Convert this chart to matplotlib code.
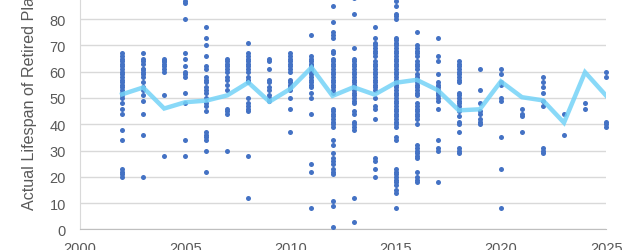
import matplotlib.pyplot as plt

# Retirement year of each plant and its actual lifespan (years)
years = list(range(2002, 2026))
lifespans = [
    [67, 66, 65, 64, 63, 62, 61, 60, 59, 58, 57, 56, 55, 54, 53, 52, 51, 50, 48, 46, 44, 38, 34, 23, 22, 21, 20],  # 2002
    [67, 65, 64, 63, 61, 61, 60, 59, 58, 56, 54, 53, 51, 49, 44, 36, 20],  # 2003
    [65, 64, 64, 63, 62, 61, 60, 51, 28],  # 2004
    [88, 87, 86, 80, 67, 65, 62, 60, 59, 58, 52, 48, 34, 28],  # 2005
    [77, 73, 70, 66, 62, 61, 58, 57, 56, 54, 53, 52, 50, 48, 47, 45, 37, 36, 35, 34, 30, 22],  # 2006
    [65, 64, 63, 62, 61, 60, 58, 57, 55, 53, 46, 45, 44, 30],  # 2007
    [71, 67, 66, 65, 64, 63, 62, 61, 60, 58, 57, 56, 50, 48, 47, 46, 45, 28, 12],  # 2008
    [65, 64, 61, 57, 56, 54, 53, 51, 50, 49],  # 2009
    [67, 66, 65, 64, 63, 62, 61, 60, 57, 56, 55, 54, 53, 50, 46, 37],  # 2010
    [74, 66, 65, 64, 63, 62, 61, 60, 59, 58, 57, 56, 55, 54, 52, 50, 44, 25, 22, 8],  # 2011
    [85, 79, 75, 74, 73, 68, 67, 65, 64, 63, 62, 61, 60, 59, 58, 57, 56, 55, 54, 53, 52,
     46, 45, 44, 43, 42, 41, 40, 39, 34, 32, 29, 27, 26, 25, 23, 22, 21, 11, 9, 1],  # 2012
    [88, 82, 69, 65, 64, 63, 62, 61, 60, 59, 58, 57, 56, 55, 54, 53, 52, 51, 50, 49, 48,
     45, 44, 41, 40, 39, 38, 12, 3],  # 2013
    [77, 73, 71, 70, 69, 68, 67, 66, 64, 63, 62, 61, 60, 59, 58, 57, 56, 55, 54, 53, 50,
     47, 46, 42, 27, 26, 23, 20],  # 2014
    [88, 87, 85, 82, 81, 80, 73, 72, 71, 70, 69, 68, 67, 66, 65, 64, 63, 62, 61, 60, 59,
     58, 57, 56, 55, 54, 53, 52, 51, 50, 49, 48, 47, 46, 45, 44, 43, 42, 41, 40, 39,
     35, 34, 23, 22, 21, 20, 19, 18, 17, 15, 14, 8],  # 2015
    [75, 70, 69, 68, 67, 66, 64, 63, 62, 61, 59, 58, 57, 56, 55, 54, 53, 52, 51, 48, 47,
     46, 45, 44, 43, 42, 40, 32, 31, 30, 29, 28, 27, 22, 20, 19, 18],  # 2016
    [73, 66, 64, 59, 56, 55, 54, 53, 52, 51, 50, 49, 46, 34, 31, 30, 18],  # 2017
    [64, 63, 62, 61, 60, 59, 58, 57, 56, 52, 51, 50, 49, 48, 47, 46, 45, 43, 41, 40, 37, 31, 30, 29],  # 2018
    [61, 53, 48, 45, 44, 42, 41, 40],  # 2019
    [61, 59, 56, 55, 50, 49, 35, 23, 8],  # 2020
    [46, 44, 43, 37],  # 2021
    [58, 56, 54, 52, 49, 47, 31, 30, 29],  # 2022
    [44, 36],  # 2023
    [48, 46],  # 2024
    [60, 58, 41, 40, 39],  # 2025
]
avg_lifespan = [51.4, 54.0, 46.0, 48.4, 49.0, 51.0, 55.9, 48.6, 53.5, 61.6, 50.8, 54.1,
                51.3, 55.8, 56.9, 53.0, 45.3, 45.7, 56.3, 50.3, 49.1, 40.6, 59.8, 50.9]

plt.rcParams['font.family'] = ['Liberation Sans', 'DejaVu Sans']

fig = plt.figure(figsize=(6.4, 2.51), dpi=100)
# axes runs off the top of the canvas (the original chart is cropped)
ax = fig.add_axes([0.125, 0.0817, 0.822, 0.943])

xs = [y for y, vals in zip(years, lifespans) for _ in vals]
ys = [v for vals in lifespans for v in vals]
ax.scatter(xs, ys, s=13, color='#4472C4', linewidths=0, zorder=3, clip_on=False)
ax.plot(years, avg_lifespan, color='#74D3F7', lw=3.2, alpha=0.85, zorder=4,
        solid_joinstyle='miter')

ax.set_xlim(2000, 2025)
ax.set_ylim(0, 90)
ax.set_xticks(range(2000, 2026, 5))
ax.set_yticks(range(0, 90, 10))
ax.grid(axis='y', color='#D9D9D9', lw=1)
ax.set_axisbelow(True)
for s in ['top', 'right']:
    ax.spines[s].set_visible(False)
ax.spines['left'].set_color('#D9D9D9')
ax.spines['bottom'].set_color('#BFBFBF')
ax.tick_params(length=0, labelsize=10.5, labelcolor='#595959')
ax.tick_params(axis='x', pad=8)
ax.tick_params(axis='y', pad=10)

fig.text(30 / 640, 1 - 210 / 251, 'Actual Lifespan of Retired Plants (Years)',
         rotation=90, ha='center', va='bottom', fontsize=11.6, color='#595959')

fig.savefig('out.png', dpi=100)
